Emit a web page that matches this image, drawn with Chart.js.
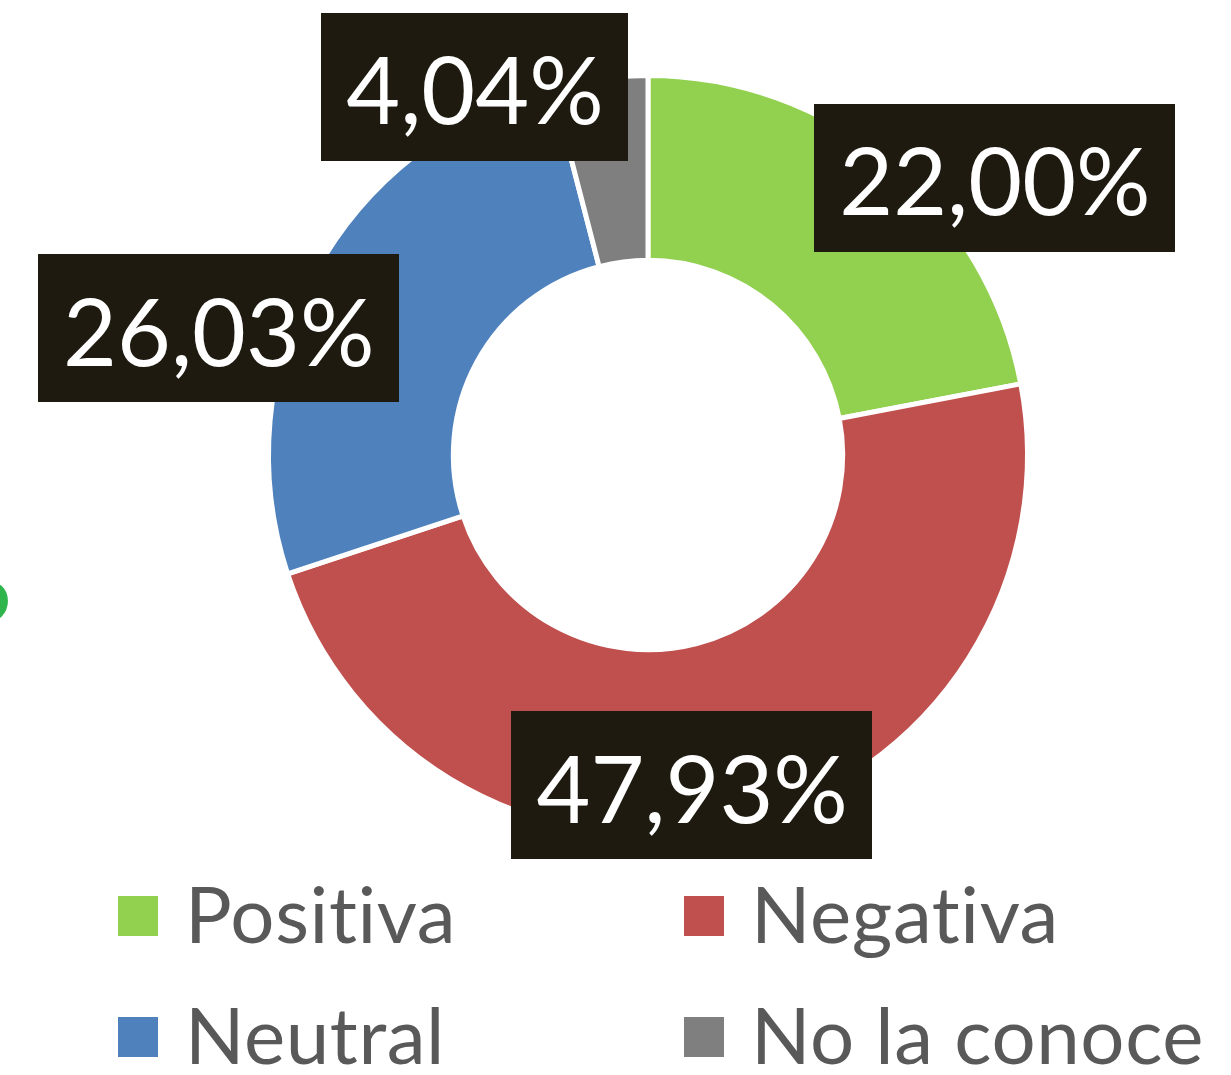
<!DOCTYPE html>
<html>
<head>
<meta charset="utf-8">
<title>Percepción</title>
<script src="https://cdn.jsdelivr.net/npm/chart.js@4.4.1/dist/chart.umd.min.js"></script>
<style>
  html, body { margin: 0; padding: 0; background: #fff; }
  canvas { display: block; }
</style>
</head>
<body>
<canvas id="chart" width="1231" height="1075"></canvas>
<script>
  'use strict';

  var categories = ['Positiva', 'Negativa', 'Neutral', 'No la conoce'];
  var shares = [22.00, 47.93, 26.03, 4.04];
  var sliceColors = ['#92d050', '#c0504d', '#4f81bd', '#7f7f7f'];

  var FONT = 'Lato, "Open Sans", sans-serif';

  function formatShare(v) {
    return v.toFixed(2).replace('.', ',') + '%';
  }

  /**
   * Dark value boxes placed just outside each slice.
   */
  var valueBoxes = {
    id: 'valueBoxes',
    afterDatasetsDraw: function (chart, args, opts) {
      var ctx = chart.ctx;
      var meta = chart.getDatasetMeta(0);
      ctx.save();
      ctx.font = opts.fontSize + 'px ' + FONT;
      meta.data.forEach(function (arc, i) {
        var p = arc.getProps(['x', 'y', 'startAngle', 'endAngle', 'outerRadius'], true);
        var mid = (p.startAngle + p.endAngle) / 2;
        var shift = opts.shift[i];
        var cx = p.x + Math.cos(mid) * p.outerRadius + shift[0];
        var cy = p.y + Math.sin(mid) * p.outerRadius + shift[1];
        var text = formatShare(shares[i]);
        var w = ctx.measureText(text).width + opts.padX * 2;
        var h = opts.boxHeight;
        ctx.fillStyle = '#1e1a10';
        ctx.fillRect(Math.round(cx - w / 2), Math.round(cy - h / 2), Math.round(w), h);
        ctx.fillStyle = '#ffffff';
        ctx.textAlign = 'center';
        ctx.textBaseline = 'alphabetic';
        ctx.fillText(text, cx, cy + opts.fontSize * 0.4);
      });
      ctx.restore();
    }
  };

  /**
   * Two-column legend under the ring.
   */
  var gridLegend = {
    id: 'gridLegend',
    afterDraw: function (chart, args, opts) {
      var ctx = chart.ctx;
      ctx.save();
      ctx.font = opts.fontSize + 'px ' + FONT;
      // a little tracking keeps Lato from joining "ti"
      ctx.letterSpacing = '0.6px';
      ctx.textAlign = 'left';
      ctx.textBaseline = 'alphabetic';
      categories.forEach(function (name, i) {
        var col = i % 2;
        var row = Math.floor(i / 2);
        var x = opts.columns[col];
        var y = opts.rows[row];
        ctx.fillStyle = sliceColors[i];
        ctx.fillRect(x, y, opts.box, opts.box);
        ctx.fillStyle = '#595959';
        ctx.fillText(name, x + opts.box + opts.gap, y + opts.box / 2 + opts.fontSize * 0.34);
      });

      // stray glyph at the left edge
      ctx.letterSpacing = '0px';
      ctx.fillStyle = '#2fb54b';
      ctx.font = '94px ' + FONT;
      ctx.textAlign = 'right';
      ctx.fillText('6', 12, 622);
      ctx.restore();
    }
  };

  var ctx = document.getElementById('chart').getContext('2d');
  var chart = new Chart(ctx, {
    type: 'doughnut',
    data: {
      labels: categories,
      datasets: [{
        data: shares,
        backgroundColor: sliceColors,
        borderColor: '#ffffff',
        borderWidth: 5
      }]
    },
    options: {
      responsive: false,
      animation: false,
      cutout: '51.3%',
      layout: {
        padding: { left: 266, right: 201, top: 73, bottom: 238 }
      },
      plugins: {
        legend: { display: false },
        tooltip: { enabled: false },
        valueBoxes: {
          fontSize: 93,
          padX: 25,
          boxHeight: 148,
          shift: [[105, 15], [-51, -37], [-96, 55], [-125, 8]]
        },
        gridLegend: {
          fontSize: 78,
          box: 40,
          gap: 27,
          columns: [118, 684],
          rows: [896, 1017]
        }
      }
    },
    plugins: [valueBoxes, gridLegend]
  });
</script>
</body>
</html>
